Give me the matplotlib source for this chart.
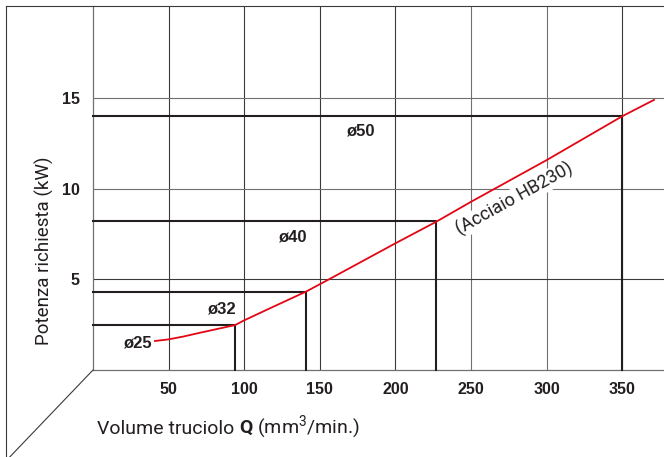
import matplotlib
matplotlib.use("Agg")
import matplotlib.pyplot as plt
from matplotlib.lines import Line2D

plt.rcParams["font.family"] = ["Roboto", "DejaVu Sans"]
plt.rcParams["mathtext.fontset"] = "custom"
plt.rcParams["mathtext.rm"] = "Roboto"
plt.rcParams["mathtext.bf"] = "Roboto:bold"

# chip volume Q (mm3/min) vs required power (kW)
flow_ticks = [50, 100, 150, 200, 250, 300, 350]
power_ticks = [5, 10, 15]
light_flow = [250, 300]
light_power = [10, 15]

cutter_labels = ["ø25", "ø32", "ø40", "ø50"]
cutter_flow = [94, 141, 227, 350]
cutter_power = [2.5, 4.3, 8.2, 14.0]
label_flow = [29, 85, 132, 177]
label_power = [1.5, 3.35, 7.35, 13.2]

curve_flow = [41, 50, 60, 71, 82, 94, 100, 120, 141, 156, 200, 227, 250, 300, 350, 371]
curve_power = [1.6, 1.69, 1.85, 2.06, 2.26, 2.48, 2.74, 3.52, 4.33, 5.0, 6.99, 8.18, 9.28, 11.58, 14.0, 14.9]

W, H = 664, 457
fig = plt.figure(figsize=(W / 100, H / 100), dpi=100)
ax = fig.add_axes([93 / W, (H - 370) / H, (W - 93) / W, (370 - 6) / H])
ax.set_xlim(0, 377.6)
ax.set_ylim(0, 20.08)

ink = "#231f20"
dark = "#3a3a3a"
gray = "#707070"

for s in ["top", "right"]:
    ax.spines[s].set_visible(False)
for s in ["left", "bottom"]:
    ax.spines[s].set_color(gray)
    ax.spines[s].set_linewidth(0.9)

ax.set_xticks(flow_ticks)
ax.set_yticks(power_ticks)
ax.tick_params(axis="x", length=0, pad=8.5, labelsize=11.5, labelcolor=ink)
ax.tick_params(axis="y", length=0, pad=9.5, labelsize=11.5, labelcolor=ink)
for lab in ax.get_xticklabels() + ax.get_yticklabels():
    lab.set_fontfamily("Liberation Sans")
    lab.set_fontweight("bold")

ax.grid(True, color=dark, linewidth=0.8)
for gl, t in zip(ax.get_xgridlines(), flow_ticks):
    if t in light_flow:
        gl.set_color(gray)
for gl, t in zip(ax.get_ygridlines(), power_ticks):
    if t in light_power:
        gl.set_color(gray)
ax.set_axisbelow(True)

for q, p in zip(cutter_flow, cutter_power):
    ax.plot([0, q, q], [p, p, 0], color=ink, linewidth=1.5, zorder=3, clip_on=False)

for lab, q, p in zip(cutter_labels, label_flow, label_power):
    ax.text(q, p, lab, ha="center", va="center", fontsize=12, fontweight="bold",
            family="Liberation Sans", color=ink, zorder=4)

ax.text(278.8, 9.45, "(Acciaio HB230)", rotation=29, rotation_mode="anchor",
        ha="center", va="center", fontsize=13, color=ink, zorder=4,
        bbox=dict(boxstyle="square,pad=0.05", facecolor="white", edgecolor="none"))

ax.plot(curve_flow, curve_power, color="#e30613", linewidth=1.3, zorder=5, clip_on=False)

# outer frame and perspective line
def px(x, y):
    return x / W, 1 - y / H

for (x0, y0), (x1, y1) in [((6, 6), (664, 6)), ((6, 6), (6, 460)), ((93, 370), (4, 463))]:
    a, b = px(x0, y0)
    c, d = px(x1, y1)
    fig.add_artist(Line2D([a, c], [b, d], color=dark, linewidth=0.8))

fig.text(44 / W, 1 - 251 / H, "Potenza richiesta (kW)", rotation=90,
         ha="center", va="center", fontsize=13.5, color=ink)

# x label: plain part, then bold Q and unit with superscript
t1 = fig.text(97 / W, 1 - 434 / H, "Volume truciolo ", ha="left", va="baseline",
              fontsize=14, color=ink)
renderer = fig.canvas.get_renderer()
bb = t1.get_window_extent(renderer)
fig.text(bb.x1 / W, 1 - 434 / H, r"$\mathbf{Q}$ (mm$^3$/min.)", ha="left", va="baseline",
         fontsize=14, color=ink)

fig.savefig("out.png", dpi=100)
